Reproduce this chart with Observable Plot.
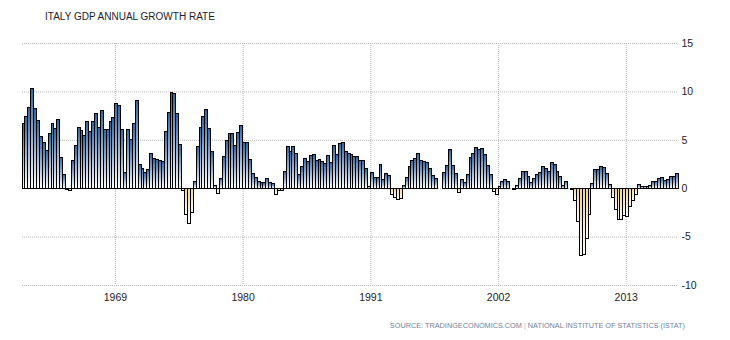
<!DOCTYPE html>
<html>
<head>
<meta charset="utf-8">
<script src="https://cdn.jsdelivr.net/npm/d3@7"></script>
<script src="https://cdn.jsdelivr.net/npm/@observablehq/plot@0.6"></script>
<style>
  html, body { margin: 0; padding: 0; background: #fff; }
  #wrap { position: relative; width: 730px; height: 340px; overflow: hidden; }
  #title { position: absolute; left: 45px; top: 11px; font: 10px "Liberation Sans", Arial, sans-serif; line-height: 12px; color: #1c1c2a; white-space: nowrap; }
  #source { position: absolute; right: 45px; top: 321px; font: 7.3px "Liberation Sans", Arial, sans-serif; line-height: 10px; color: #75829a; white-space: nowrap; }
  #source .sep { color: #b0b8c4; }
</style>
</head>
<body>
<div id="wrap">
  <div id="chart"></div>
  <div id="title"></div>
  <div id="source"></div>
</div>
<script>
// Italy GDP annual growth rate (%), quarterly, starting 1961 Q1
const startYear = 1961;
const quarterlyGrowth = [
  6.7, 7.4, 8.35, 10.3,   8.2, 7.0, 5.3, 4.7,   3.9, 5.7, 6.7, 6.2,   7.1, 3.2, 1.4, -0.15,
  -0.25, 2.9, 4.4, 6.3,   6.0, 5.4, 6.9, 5.9,   6.9, 7.7, 6.3, 8.0,   6.1, 6.1, 6.9, 7.35,
  8.8, 8.5, 6.1, 1.65,    6.1, 5.0, 6.7, 9.1,   2.4, 2.06, 1.6, 1.96, 3.6, 3.1, 3.0, 2.9,
  2.8, 5.9, 7.8, 9.9,     9.8, 7.7, 4.5, -0.2,  -2.7, -3.6, -2.5, 0.7, 4.3, 6.3, 7.4, 8.1,
  6.2, 3.8, 0.3, -0.5,    1.0, 3.3, 4.9, 5.6,   5.6, 4.4, 5.8, 6.5,   4.7, 4.7, 3.0, 1.55,
  1.1, 0.7, 0.55, 0.55,   1.0, 0.55, 0.45, -0.6, -0.2, -0.2, 1.75, 4.3, 3.8, 4.3, 3.6, 1.4,
  2.2, 3.1, 2.8, 3.4,     3.5, 2.9, 3.0, 2.8,   2.6, 3.4, 2.7, 4.4,   3.5, 4.6, 4.7, 3.8,
  3.6, 3.5, 3.3, 3.25,    2.9, 2.9, 2.0, 0.2,   1.65, 1.1, 1.1, 2.4,  0.9, 1.5, 1.3, -0.6,
  -1.0, -1.2, -1.1, 0.25, 1.1, 2.2, 2.9, 3.1,   3.6, 2.9, 2.8, 2.7,   2.0, 1.3, 1.0, 0,
  0, 1.65, 2.3, 4.0,      2.3, 1.55, -0.4, 0.9, 0.6, 1.4, 3.2, 3.6, 4.2, 4.0, 4.1, 3.5,
  2.3, 1.4, -0.3, -0.6,   0.2, 0.7, 0.9, 0.7,   0, -0.1, 0.3, 1.0,    1.75, 1.75, 1.25, 0.6,
  1.0, 1.45, 1.65, 2.25,  2.05, 1.75, 2.7, 2.4, 1.75, 1.25, 0.3, 0.7, 0, -0.1, -1.25, -3.4,
  -7.0, -6.8, -5.15, -2.7, 0.5, 1.95, 1.95, 2.25, 2.15, 1.55, 0.4, -1.0, -2.25, -3.2, -3.2, -2.8,
  -2.9, -1.85, -1.25, -0.6, 0.4, 0.2, 0.2, 0.2, 0.3, 0.7, 0.7, 1.0,   1.1, 0.8, 0.9, 1.25,
  1.25, 1.55
];
const yTicks = [-10, -5, 0, 5, 10, 15];
const xTickYears = [1969, 1980, 1991, 2002, 2013];
const titleText = "ITALY GDP ANNUAL GROWTH RATE";
const sourceLeft = "SOURCE: TRADINGECONOMICS.COM";
const sourceRight = "NATIONAL INSTITUTE OF STATISTICS (ISTAT)";

const rows = quarterlyGrowth.map((v, i) => ({
  t0: startYear + i / 4,
  t1: startYear + (i + 1) / 4,
  v
}));
const endYear = startYear + quarterlyGrowth.length / 4;

const grid = {stroke: "#b9b9b9", strokeOpacity: 1, strokeDasharray: "1,1", strokeWidth: 1};

const chart = Plot.plot({
  width: 730,
  height: 340,
  marginLeft: 22,
  marginRight: 52,
  marginTop: 43,
  marginBottom: 55,
  style: {fontFamily: "'Liberation Sans', Arial, sans-serif", fontSize: "10.5px", color: "#1c1c2a", background: "transparent", overflow: "visible"},
  x: {domain: [startYear, endYear], ticks: xTickYears, tickFormat: d => String(d), tickSize: 0, tickPadding: 8, label: null},
  y: {domain: [-10, 15], ticks: yTicks, tickFormat: d => String(d), tickSize: 0, tickPadding: 3, label: null, axis: "right"},
  marks: [
    Plot.ruleY(yTicks, grid),
    Plot.ruleX(xTickYears, grid),
    Plot.rect(rows.filter(d => d.v > 0), {x1: "t0", x2: "t1", y1: () => 0, y2: "v", fill: "url(#gradPos)", stroke: "#000", strokeWidth: 1, shapeRendering: "crispEdges"}),
    Plot.rect(rows.filter(d => d.v < 0), {x1: "t0", x2: "t1", y1: () => 0, y2: "v", fill: "url(#gradNeg)", stroke: "#000", strokeWidth: 1, shapeRendering: "crispEdges"})
  ]
});

const svgNS = "http://www.w3.org/2000/svg";
const svgEl = chart.tagName.toLowerCase() === "svg" ? chart : chart.querySelector("svg");
const defs = document.createElementNS(svgNS, "defs");
function gradient(id, c0, c1) {
  const g = document.createElementNS(svgNS, "linearGradient");
  g.setAttribute("id", id);
  g.setAttribute("x1", "0"); g.setAttribute("y1", "0");
  g.setAttribute("x2", "0"); g.setAttribute("y2", "1");
  [[0, c0], [1, c1]].forEach(([o, c]) => {
    const s = document.createElementNS(svgNS, "stop");
    s.setAttribute("offset", o);
    s.setAttribute("stop-color", c);
    g.appendChild(s);
  });
  defs.appendChild(g);
}
gradient("gradPos", "#3364a0", "#ffffff");
gradient("gradNeg", "#ecd49c", "#ffffff");
svgEl.insertBefore(defs, svgEl.firstChild);

document.getElementById("chart").appendChild(chart);
document.getElementById("title").textContent = titleText;
const src = document.getElementById("source");
src.appendChild(document.createTextNode(sourceLeft + " "));
const sep = document.createElement("span");
sep.className = "sep";
sep.textContent = "|";
src.appendChild(sep);
src.appendChild(document.createTextNode(" " + sourceRight));
</script>
</body>
</html>
